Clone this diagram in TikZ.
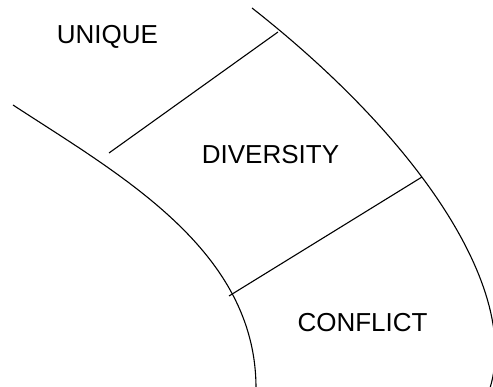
\documentclass[tikz,border=0pt]{standalone}
\usepackage{fontspec}
\setmainfont{Liberation Sans}
\begin{document}
\begin{tikzpicture}[x=1pt,y=-1pt,
  band/.style={line width=1.1pt, black},
  lbl/.style={font=\fontsize{26}{30}\selectfont, text height=18.6pt, text depth=0pt, inner sep=0pt, anchor=center}]
\useasboundingbox (0,0) rectangle (493,387);
% curve end points
\coordinate (L0) at (13,105);
\coordinate (L1) at (256,388);
\coordinate (R0) at (252,8);
\coordinate (R1) at (490,388);
% divider end points
\coordinate (A1) at (109,153);
\coordinate (A2) at (278,32);
\coordinate (B1) at (229,296);
\coordinate (B2) at (422,177);
\draw[band] (L0) .. controls (120,175) and (256,250) .. (L1);
\draw[band] (R0) .. controls (420,140) and (520,290) .. (R1);
\draw[band] (A1) -- (A2);
\draw[band] (B1) -- (B2);
\node[lbl] (unique) at (107.5,34) {UNIQUE};
\node[lbl] (diversity) at (270.5,154) {DIVERSITY};
\node[lbl] (conflict) at (362.5,322) {CONFLICT};
\end{tikzpicture}
\end{document}
